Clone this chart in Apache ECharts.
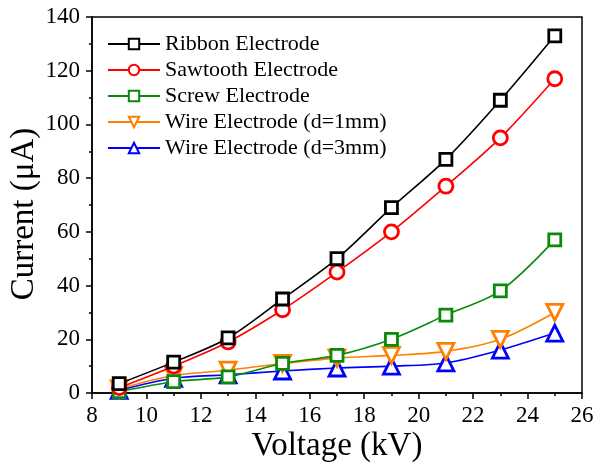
<!DOCTYPE html>
<html><head><meta charset="utf-8">
<script src="https://cdn.jsdelivr.net/npm/echarts@6/dist/echarts.min.js"></script>
<style>html,body{margin:0;padding:0;background:#fff}#c{width:596px;height:464px}</style>
</head><body><div id="c"></div>
<script>
var voltage = [9, 11, 13, 15, 17, 19, 21, 23, 25];
var ribbon = [3.5, 11.5, 20.5, 35, 50, 69, 87, 109, 133];
var sawtooth = [2, 10, 19, 31, 45, 60, 77, 95, 117];
var screw = [0.5, 4.2, 6, 11, 14, 20, 29, 38, 57];
var wire1 = [1.5, 6.5, 8.5, 11, 13, 14, 15.5, 20, 30];
var wire3 = [1, 5.5, 6.8, 8.2, 9.3, 10, 11.2, 16, 22.3];
var seriesNames = ['Ribbon Electrode', 'Sawtooth Electrode', 'Screw Electrode', 'Wire Electrode (d=1mm)', 'Wire Electrode (d=3mm)'];
var seriesColors = ['#000000', '#ff0000', '#0a8a0a', '#ff8000', '#0000ff'];
var seriesData = [ribbon, sawtooth, screw, wire1, wire3];
var symbols = ['rect', 'circle', 'rect', 'triangle', 'triangle'];
var symbolSizes = [12, 14, 12, 16, 16];
var symbolRotates = [0, 0, 0, 180, 0];

var font = 'Liberation Serif, Times New Roman, serif';
var series = seriesData.map(function (d, i) {
  return {
    name: seriesNames[i], type: 'line', smooth: 0.3,
    data: voltage.map(function (v, j) { return [v, d[j]]; }),
    symbol: symbols[i], symbolSize: symbolSizes[i], symbolRotate: symbolRotates[i],
    showAllSymbol: true,
    lineStyle: { color: seriesColors[i], width: 1.6 },
    itemStyle: { color: '#ffffff', borderColor: seriesColors[i], borderWidth: 2.8 },
    z: 10 - i
  };
});
var chart = echarts.init(document.getElementById('c'));
chart.setOption({
  animation: false,
  grid: { left: 92, top: 17, right: 14, bottom: 71, outerBoundsMode: 'none', containLabel: false,
          show: true, borderColor: '#000', borderWidth: 1.5, backgroundColor: 'transparent' },
  legend: {
    orient: 'vertical', left: 102, top: 28,
    itemWidth: 52, itemHeight: 13, itemGap: 4,
    textStyle: { fontFamily: font, fontSize: 22, color: '#000', lineHeight: 22 },
    data: seriesNames
  },
  xAxis: {
    type: 'value', min: 8, max: 26, interval: 2,
    name: 'Voltage (kV)', nameLocation: 'middle', nameGap: 37, nameMoveOverlap: false,
    nameTextStyle: { fontFamily: font, fontSize: 33, color: '#000' },
    axisLine: { lineStyle: { color: '#000', width: 1.5 } },
    axisTick: { show: true, length: 6, lineStyle: { color: '#000', width: 1.5 } },
    minorTick: { show: true, splitNumber: 2, length: 3, lineStyle: { color: '#000', width: 1.5 } },
    axisLabel: { fontFamily: font, fontSize: 23, color: '#000', margin: 11 },
    splitLine: { show: false }
  },
  yAxis: {
    type: 'value', min: 0, max: 140, interval: 20,
    name: 'Current (μA)', nameLocation: 'middle', nameGap: 51, nameMoveOverlap: false,
    nameTextStyle: { fontFamily: font, fontSize: 33, color: '#000', padding: [0, 18, 0, 0] },
    axisLine: { show: true, lineStyle: { color: '#000', width: 1.5 } },
    axisTick: { show: true, length: 6, lineStyle: { color: '#000', width: 1.5 } },
    minorTick: { show: true, splitNumber: 2, length: 3, lineStyle: { color: '#000', width: 1.5 } },
    axisLabel: { fontFamily: font, fontSize: 23, color: '#000', margin: 12 },
    splitLine: { show: false }
  },
  series: series
});
</script></body></html>
